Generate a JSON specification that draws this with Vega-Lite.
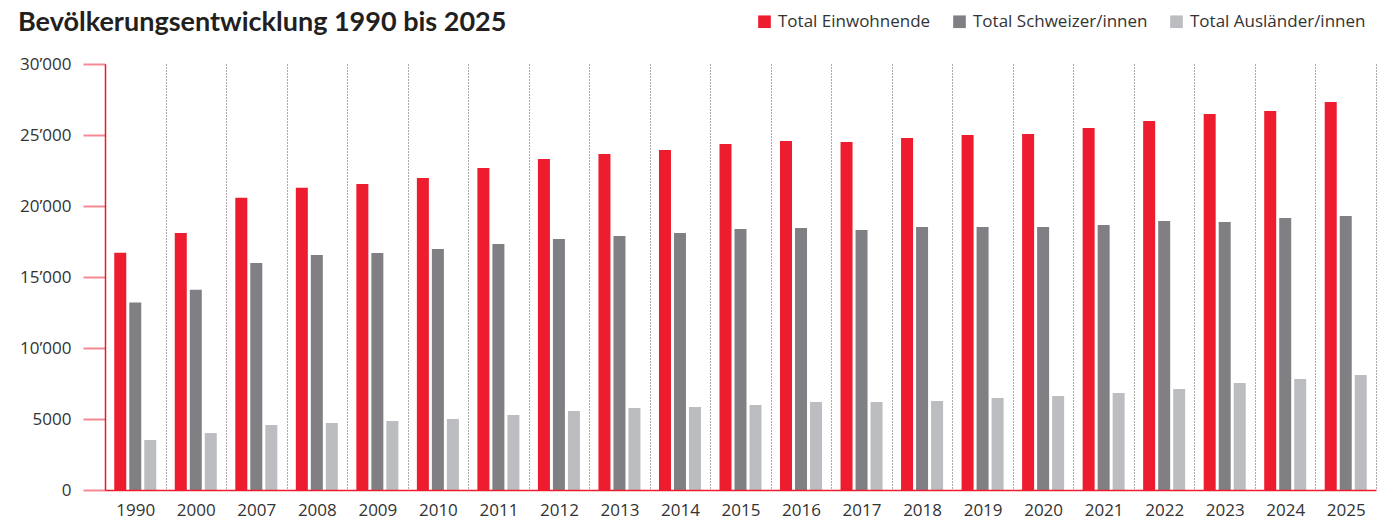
{
  "$schema": "https://vega.github.io/schema/vega-lite/v6.json",
  "width": 1271,
  "height": 426,
  "autosize": {"type": "none"},
  "padding": {"left": 105, "top": 64, "right": 3, "bottom": 30},
  "background": "white",
  "title": {
    "text": "Bevölkerungsentwicklung 1990 bis 2025",
    "anchor": "start",
    "frame": "group",
    "dx": -87,
    "offset": 0,
    "dy": 24,
    "font": "Lato",
    "fontSize": 27,
    "fontWeight": "bold",
    "color": "#231F20"
  },
  "config": {
    "view": {"stroke": null},
    "font": "Open Sans"
  },
  "data": {
    "values": [
      {"year": "1990", "cat": "Total Einwohnende", "value": 16700},
      {"year": "1990", "cat": "Total Schweizer/innen", "value": 13200},
      {"year": "1990", "cat": "Total Ausländer/innen", "value": 3520},
      {"year": "2000", "cat": "Total Einwohnende", "value": 18100},
      {"year": "2000", "cat": "Total Schweizer/innen", "value": 14100},
      {"year": "2000", "cat": "Total Ausländer/innen", "value": 4010},
      {"year": "2007", "cat": "Total Einwohnende", "value": 20580},
      {"year": "2007", "cat": "Total Schweizer/innen", "value": 15990},
      {"year": "2007", "cat": "Total Ausländer/innen", "value": 4580},
      {"year": "2008", "cat": "Total Einwohnende", "value": 21280},
      {"year": "2008", "cat": "Total Schweizer/innen", "value": 16550},
      {"year": "2008", "cat": "Total Ausländer/innen", "value": 4720},
      {"year": "2009", "cat": "Total Einwohnende", "value": 21550},
      {"year": "2009", "cat": "Total Schweizer/innen", "value": 16690},
      {"year": "2009", "cat": "Total Ausländer/innen", "value": 4860},
      {"year": "2010", "cat": "Total Einwohnende", "value": 21970},
      {"year": "2010", "cat": "Total Schweizer/innen", "value": 16970},
      {"year": "2010", "cat": "Total Ausländer/innen", "value": 5000},
      {"year": "2011", "cat": "Total Einwohnende", "value": 22680},
      {"year": "2011", "cat": "Total Schweizer/innen", "value": 17320},
      {"year": "2011", "cat": "Total Ausländer/innen", "value": 5280},
      {"year": "2012", "cat": "Total Einwohnende", "value": 23310},
      {"year": "2012", "cat": "Total Schweizer/innen", "value": 17680},
      {"year": "2012", "cat": "Total Ausländer/innen", "value": 5560},
      {"year": "2013", "cat": "Total Einwohnende", "value": 23660},
      {"year": "2013", "cat": "Total Schweizer/innen", "value": 17890},
      {"year": "2013", "cat": "Total Ausländer/innen", "value": 5770},
      {"year": "2014", "cat": "Total Einwohnende", "value": 23940},
      {"year": "2014", "cat": "Total Schweizer/innen", "value": 18100},
      {"year": "2014", "cat": "Total Ausländer/innen", "value": 5850},
      {"year": "2015", "cat": "Total Einwohnende", "value": 24360},
      {"year": "2015", "cat": "Total Schweizer/innen", "value": 18380},
      {"year": "2015", "cat": "Total Ausländer/innen", "value": 5990},
      {"year": "2016", "cat": "Total Einwohnende", "value": 24580},
      {"year": "2016", "cat": "Total Schweizer/innen", "value": 18450},
      {"year": "2016", "cat": "Total Ausländer/innen", "value": 6200},
      {"year": "2017", "cat": "Total Einwohnende", "value": 24510},
      {"year": "2017", "cat": "Total Schweizer/innen", "value": 18310},
      {"year": "2017", "cat": "Total Ausländer/innen", "value": 6200},
      {"year": "2018", "cat": "Total Einwohnende", "value": 24790},
      {"year": "2018", "cat": "Total Schweizer/innen", "value": 18520},
      {"year": "2018", "cat": "Total Ausländer/innen", "value": 6270},
      {"year": "2019", "cat": "Total Einwohnende", "value": 25000},
      {"year": "2019", "cat": "Total Schweizer/innen", "value": 18520},
      {"year": "2019", "cat": "Total Ausländer/innen", "value": 6480},
      {"year": "2020", "cat": "Total Einwohnende", "value": 25070},
      {"year": "2020", "cat": "Total Schweizer/innen", "value": 18520},
      {"year": "2020", "cat": "Total Ausländer/innen", "value": 6620},
      {"year": "2021", "cat": "Total Einwohnende", "value": 25490},
      {"year": "2021", "cat": "Total Schweizer/innen", "value": 18660},
      {"year": "2021", "cat": "Total Ausländer/innen", "value": 6830},
      {"year": "2022", "cat": "Total Einwohnende", "value": 25990},
      {"year": "2022", "cat": "Total Schweizer/innen", "value": 18940},
      {"year": "2022", "cat": "Total Ausländer/innen", "value": 7110},
      {"year": "2023", "cat": "Total Einwohnende", "value": 26480},
      {"year": "2023", "cat": "Total Schweizer/innen", "value": 18870},
      {"year": "2023", "cat": "Total Ausländer/innen", "value": 7540},
      {"year": "2024", "cat": "Total Einwohnende", "value": 26690},
      {"year": "2024", "cat": "Total Schweizer/innen", "value": 19150},
      {"year": "2024", "cat": "Total Ausländer/innen", "value": 7820},
      {"year": "2025", "cat": "Total Einwohnende", "value": 27320},
      {"year": "2025", "cat": "Total Schweizer/innen", "value": 19300},
      {"year": "2025", "cat": "Total Ausländer/innen", "value": 8100}
    ]
  },
  "mark": {"type": "bar"},
  "encoding": {
    "x": {
      "field": "year",
      "type": "nominal",
      "scale": {"paddingInner": 0, "paddingOuter": 0},
      "axis": {
        "title": null,
        "labelAngle": 0,
        "labelFontSize": 17,
        "labelColor": "#333333",
        "labelPadding": 12,
        "ticks": false,
        "tickBand": "extent",
        "grid": true,
        "gridDash": [1, 2],
        "gridColor": "#555555",
        "gridWidth": 1,
        "domainColor": "#ED1C2E",
        "domainWidth": 1.5,
        "zindex": 1
      }
    },
    "xOffset": {
      "field": "cat",
      "type": "nominal",
      "scale": {
        "domain": ["Total Einwohnende", "Total Schweizer/innen", "Total Ausländer/innen"],
        "paddingInner": 0.2,
        "paddingOuter": 0.617
      }
    },
    "y": {
      "field": "value",
      "type": "quantitative",
      "scale": {"domain": [0, 30000], "nice": false},
      "axis": {
        "title": null,
        "values": [0, 5000, 10000, 15000, 20000, 25000, 30000],
        "labelExpr": "datum.value >= 10000 ? (datum.value / 1000) + '’000' : '' + datum.value",
        "labelFontSize": 17,
        "labelColor": "#333333",
        "labelPadding": 12,
        "tickSize": 22,
        "tickWidth": 2,
        "tickColor": "#F28A94",
        "domainColor": "#ED1C2E",
        "domainWidth": 1.5,
        "grid": false
      }
    },
    "color": {
      "field": "cat",
      "type": "nominal",
      "scale": {
        "domain": ["Total Einwohnende", "Total Schweizer/innen", "Total Ausländer/innen"],
        "range": ["#ED1C2E", "#808084", "#BCBDC1"]
      },
      "legend": {
        "title": null,
        "orient": "none",
        "direction": "horizontal",
        "legendX": 651,
        "legendY": -51,
        "symbolType": "square",
        "symbolSize": 160,
        "symbolStrokeWidth": 0,
        "labelFontSize": 17,
        "labelColor": "#333333",
        "labelLimit": 0,
        "labelOffset": 5,
        "columnPadding": 20
      }
    }
  }
}
